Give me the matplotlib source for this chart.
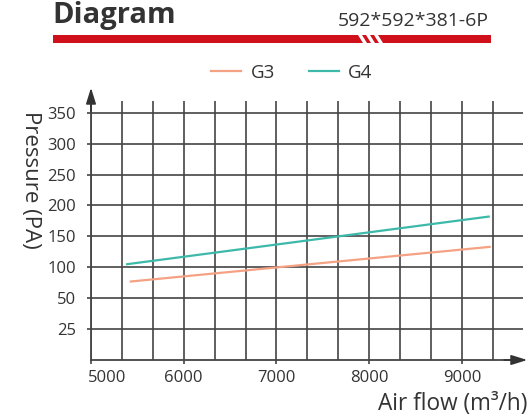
import numpy as np
import matplotlib
matplotlib.use("Agg")
import matplotlib.pyplot as plt
from matplotlib.patches import Polygon, Rectangle
from matplotlib.transforms import ScaledTranslation

plt.rcParams.update({
    'font.family': ['Open Sans', 'DejaVu Sans'],
    'text.color': '#333333',
    'axes.labelcolor': '#333333',
    'xtick.color': '#333333',
    'ytick.color': '#333333',
})

# Dados
series_names = ["G3", "G4"]
series_colors = ["#F4A283", "#3DB9AA"]
airflow_g3 = [5430, 9300]
pressure_g3 = [77, 133]
airflow_g4 = [5390, 9290]
pressure_g4 = [105, 182]

x_ticks = [5000, 6000, 7000, 8000, 9000]
y_ticks = [25, 50, 100, 150, 200, 250, 300, 350]
y_ticklabels = ["25", "50", "100", "150", "200", "250", "300", "350"]


# escala do eixo y: abaixo de 50 o passo de 25 ocupa o mesmo espaço que 50
def fwd(v):
    v = np.asarray(v, dtype=float)
    return np.where(v >= 50, v, 50 - (50 - v) * 2)


def inv(v):
    v = np.asarray(v, dtype=float)
    return np.where(v >= 50, v, 50 - (50 - v) / 2)


W, H = 531, 417
fig = plt.figure(figsize=(W / 100, H / 100), dpi=100)

# eixo principal
x0, x1, y_top, y_bot = 91, 523, 101, 360
ax = fig.add_axes([x0 / W, 1 - y_bot / H, (x1 - x0) / W, (y_bot - y_top) / H])
ax.set_yscale('function', functions=(fwd, inv))

ax.plot(airflow_g3, pressure_g3, color=series_colors[0], lw=1.6, label=series_names[0])
ax.plot(airflow_g4, pressure_g4, color=series_colors[1], lw=1.6, label=series_names[1])

ax.set_xlim(5000, 9660)
ax.set_ylim(0, 369)

ax.set_xticks(x_ticks)
ax.set_xticks(np.arange(5000 + 1000 / 3, 9400, 1000 / 3), minor=True)
ax.set_yticks(y_ticks)
ax.set_yticklabels(y_ticklabels)
ax.yaxis.set_minor_locator(plt.NullLocator())

ax.grid(True, which='both', axis='x', color='#444444', lw=1.2)
ax.grid(True, which='major', axis='y', color='#444444', lw=1.2)
ax.set_axisbelow(True)

ax.tick_params(axis='both', which='major', length=3, width=1.2, color='#444444',
               labelsize=12, pad=4)
ax.tick_params(axis='y', pad=8)
ax.tick_params(axis='x', which='minor', length=0)

# primeiro rótulo do eixo x deslocado para a direita
lbl = ax.get_xticklabels()[0]
lbl.set_horizontalalignment('left')
lbl.set_transform(lbl.get_transform() + ScaledTranslation(-3 / 100, 0, fig.dpi_scale_trans))

for side in ['top', 'right']:
    ax.spines[side].set_visible(False)
for side in ['left', 'bottom']:
    ax.spines[side].set_color('#444444')
    ax.spines[side].set_linewidth(1.3)

# setas dos eixos
ax.annotate('', xy=(0, 1 + 16 / (y_bot - y_top)), xytext=(0, 0.95), xycoords='axes fraction',
            arrowprops=dict(arrowstyle='-|>,head_length=0.8,head_width=0.25',
                            color='#333333', lw=1.2, mutation_scale=12),
            annotation_clip=False)
ax.annotate('', xy=(1 + 7 / (x1 - x0), 0), xytext=(0.95, 0), xycoords='axes fraction',
            arrowprops=dict(arrowstyle='-|>,head_length=0.8,head_width=0.25',
                            color='#333333', lw=1.2, mutation_scale=12),
            annotation_clip=False)

# rótulos dos eixos
fig.text(30 / W, 1 - 180 / H, "Pressure (PA)", rotation=-90, ha='center', va='center',
         fontsize=16)
fig.text(527 / W, 1 - 404 / H, "Air flow (m³/h)", ha='right', va='center', fontsize=16.3)

# legenda
fig.legend(loc='center', bbox_to_anchor=(292 / W, 1 - 73 / H), ncol=2, frameon=False,
           fontsize=13.5, handlelength=1.6, columnspacing=1.8, handletextpad=0.5)

# cabeçalho (no original o título fica encostado na borda de cima)
fig.text(52 / W, 1 - 23 / H, "Diagram", fontsize=21, fontweight='bold', ha='left',
         va='baseline', color='#333333')
fig.text(489 / W, 1 - 26 / H, "592*592*381-6P", fontsize=14, ha='right',
         va='baseline', color='#333333')
fig.patches.append(Rectangle((53 / W, 1 - 43 / H), (491 - 53) / W, 8 / H,
                             transform=fig.transFigure, color='#D0101A', lw=0))
for sx in [358, 366, 374]:
    fig.patches.append(Polygon([((sx) / W, 1 - 35 / H), ((sx + 4) / W, 1 - 35 / H),
                                ((sx + 9) / W, 1 - 43 / H), ((sx + 5) / W, 1 - 43 / H)],
                               closed=True, transform=fig.transFigure,
                               color='white', lw=0))

fig.savefig("out.png", dpi=100)
